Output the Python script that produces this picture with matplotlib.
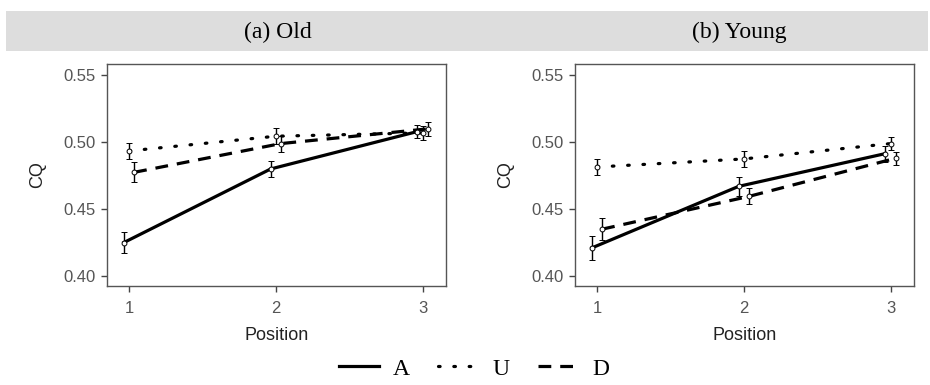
import numpy as np
import matplotlib
matplotlib.use("Agg")
import matplotlib.pyplot as plt
from matplotlib.patches import Rectangle
from matplotlib.lines import Line2D

positions = [1, 2, 3]
panels = ["(a) Old", "(b) Young"]
groups = ["A", "U", "D"]

# Old
old_A = [0.425, 0.480, 0.508]
old_U = [0.4935, 0.5045, 0.507]
old_D = [0.4775, 0.499, 0.510]
old_A_err = [0.008, 0.006, 0.005]
old_U_err = [0.006, 0.006, 0.005]
old_D_err = [0.0075, 0.006, 0.005]

# Young
young_A = [0.421, 0.467, 0.4915]
young_U = [0.4815, 0.4875, 0.499]
young_D = [0.435, 0.4595, 0.488]
young_A_err = [0.009, 0.007, 0.006]
young_U_err = [0.006, 0.006, 0.005]
young_D_err = [0.008, 0.006, 0.005]

data = [
    {"A": (old_A, old_A_err), "U": (old_U, old_U_err), "D": (old_D, old_D_err)},
    {"A": (young_A, young_A_err), "U": (young_U, young_U_err), "D": (young_D, young_D_err)},
]

dodge = {"A": -0.035, "U": 0.0, "D": 0.035}
styles = {"A": "-", "U": (0, (0.5, 4.3)), "D": (0, (4.0, 2.8))}

plt.rcParams["font.family"] = ["Liberation Sans", "DejaVu Sans"]

fig = plt.figure(figsize=(9.3, 3.85), dpi=100)

# grey header strip with panel titles
fig.patches.append(Rectangle((6 / 930, 1 - 51 / 385), 922 / 930, 40 / 385,
                             transform=fig.transFigure, facecolor="#dddddd",
                             edgecolor="none", zorder=0))
fig.text(278 / 930, 1 - 32 / 385, panels[0], ha="center", va="center",
         fontsize=17, family="Liberation Serif")
fig.text(739 / 930, 1 - 32 / 385, panels[1], ha="center", va="center",
         fontsize=17, family="Liberation Serif")

lefts = [107 / 930, 575 / 930]
for i, left in enumerate(lefts):
    ax = fig.add_axes([left, 1 - 286 / 385, 339 / 930, 222 / 385])
    for g in groups:
        vals, errs = data[i][g]
        xs = np.array(positions) + dodge[g]
        dash_cap = "round" if g == "U" else "butt"
        ax.plot(xs, vals, color="black", lw=2.3, linestyle=styles[g],
                dash_capstyle=dash_cap, zorder=2)
        ax.errorbar(xs, vals, yerr=errs, fmt="o", ms=3.5, mfc="white", mec="black",
                    mew=0.7, ecolor="black", elinewidth=1, capsize=2, capthick=1, zorder=3)
    ax.set_xlim(0.85, 3.16)
    ax.set_ylim(0.3925, 0.5585)
    ax.set_xticks(positions)
    ax.set_yticks([0.40, 0.45, 0.50, 0.55])
    ax.set_yticklabels(["0.40", "0.45", "0.50", "0.55"])
    ax.tick_params(direction="out", length=4.5, width=1, color="#444444",
                   labelcolor="#555555", labelsize=12, pad=4)
    ax.tick_params(axis="x", pad=6)
    for s in ax.spines.values():
        s.set_color("#555555")
        s.set_linewidth(1)
    ax.set_xlabel("Position", fontsize=13, color="#222222", labelpad=8)
    ax.set_ylabel("CQ", fontsize=13, color="#222222", labelpad=12)

# legend at bottom
handles = [Line2D([0], [0], color="black", lw=2.3, linestyle=styles[g],
                  dash_capstyle="round" if g == "U" else "butt") for g in groups]
leg = fig.legend(handles, groups, loc="center", bbox_to_anchor=(474 / 930, 1 - 369 / 385),
                 ncol=3, frameon=False, handlelength=1.7, columnspacing=1.2,
                 handletextpad=0.6, prop={"family": "Liberation Serif", "size": 17})

fig.savefig("out.png", dpi=100)
